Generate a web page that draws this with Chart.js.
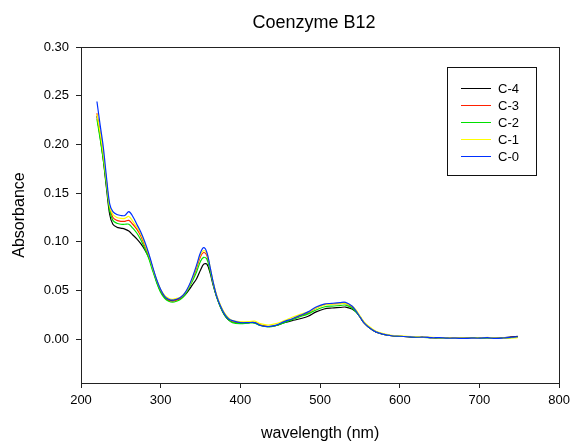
<!DOCTYPE html>
<html>
<head>
<meta charset="utf-8">
<title>Coenzyme B12</title>
<script src="https://cdn.jsdelivr.net/npm/chart.js@4.4.1/dist/chart.umd.min.js"></script>
<style>
  html, body { margin: 0; padding: 0; background: #fff; }
  canvas { display: block; }
</style>
</head>
<body>
<canvas id="chart" width="575" height="444"></canvas>
<script>
// wavelength (nm)
const wavelengths = [220, 224, 228, 232, 236, 240, 245, 250, 255, 260, 265, 270, 275, 280, 285, 290, 295, 300, 305, 310,
  315, 320, 325, 330, 335, 340, 345, 350, 354, 358, 362, 366, 370, 375, 380, 385, 390, 400, 410, 418,
  425, 435, 445, 455, 465, 475, 485, 495, 505, 515, 525, 532, 540, 545, 550, 555, 560, 565, 570, 580,
  590, 600, 610, 620, 630, 640, 650, 660, 670, 680, 690, 700, 710, 720, 730, 740, 748];

// absorbance per sample
const c4 = [0.229, 0.208, 0.184, 0.155, 0.128, 0.118, 0.115, 0.114, 0.113, 0.111,
  0.107, 0.103, 0.098, 0.092, 0.084, 0.072, 0.059, 0.049, 0.043, 0.040,
  0.040, 0.041, 0.042, 0.045, 0.050, 0.056, 0.062, 0.071, 0.077, 0.077,
  0.068, 0.055, 0.044, 0.033, 0.025, 0.020, 0.018, 0.017, 0.017, 0.017,
  0.0145, 0.013, 0.014, 0.017, 0.019, 0.021, 0.0235, 0.028, 0.031, 0.032,
  0.0325, 0.033, 0.031, 0.028, 0.023, 0.017, 0.013, 0.010, 0.0075, 0.005,
  0.0035, 0.003, 0.0025, 0.002, 0.002, 0.0015, 0.0015, 0.0012, 0.001, 0.001,
  0.001, 0.0012, 0.0015, 0.001, 0.0015, 0.0025, 0.0028];
const c3 = [0.232, 0.212, 0.189, 0.161, 0.135, 0.125, 0.122, 0.121, 0.121, 0.122,
  0.118, 0.113, 0.106, 0.096, 0.086, 0.073, 0.060, 0.050, 0.043, 0.040,
  0.039, 0.040, 0.042, 0.046, 0.053, 0.062, 0.073, 0.085, 0.089, 0.086,
  0.072, 0.057, 0.045, 0.034, 0.026, 0.021, 0.018, 0.017, 0.017, 0.017,
  0.0145, 0.013, 0.014, 0.0175, 0.0205, 0.024, 0.027, 0.032, 0.0355, 0.0363,
  0.0365, 0.0368, 0.033, 0.029, 0.023, 0.017, 0.013, 0.010, 0.0075, 0.005,
  0.0035, 0.003, 0.0025, 0.002, 0.002, 0.0015, 0.0012, 0.001, 0.001, 0.0008,
  0.001, 0.0012, 0.0015, 0.0008, 0.001, 0.0018, 0.002];
const c2 = [0.226, 0.206, 0.184, 0.157, 0.132, 0.122, 0.119, 0.118, 0.118, 0.118,
  0.114, 0.109, 0.102, 0.093, 0.083, 0.070, 0.058, 0.048, 0.042, 0.039,
  0.038, 0.039, 0.041, 0.045, 0.052, 0.060, 0.069, 0.080, 0.084, 0.082,
  0.070, 0.056, 0.044, 0.033, 0.025, 0.020, 0.017, 0.016, 0.0165, 0.0165,
  0.014, 0.0125, 0.014, 0.017, 0.020, 0.023, 0.026, 0.030, 0.033, 0.034,
  0.0345, 0.035, 0.032, 0.028, 0.023, 0.017, 0.013, 0.010, 0.0075, 0.005,
  0.0035, 0.003, 0.0025, 0.002, 0.0018, 0.0015, 0.0012, 0.001, 0.0008, 0.0008,
  0.001, 0.001, 0.0012, 0.0008, 0.001, 0.0015, 0.002];
const c1 = [0.231, 0.212, 0.190, 0.162, 0.136, 0.128, 0.125, 0.124, 0.124, 0.126,
  0.121, 0.115, 0.108, 0.098, 0.087, 0.073, 0.061, 0.051, 0.045, 0.042,
  0.041, 0.042, 0.043, 0.047, 0.053, 0.063, 0.075, 0.087, 0.091, 0.088,
  0.074, 0.058, 0.046, 0.035, 0.027, 0.022, 0.019, 0.018, 0.018, 0.0185,
  0.016, 0.0145, 0.016, 0.019, 0.0225, 0.0255, 0.028, 0.032, 0.035, 0.036,
  0.0365, 0.0368, 0.034, 0.030, 0.024, 0.018, 0.014, 0.011, 0.008, 0.0055,
  0.004, 0.0035, 0.003, 0.0025, 0.002, 0.002, 0.0015, 0.0012, 0.001, 0.001,
  0.0008, 0.0012, 0.0018, 0.001, 0.001, 0.0012, 0.0015];
const c0 = [0.244, 0.220, 0.197, 0.166, 0.139, 0.131, 0.128, 0.127, 0.127, 0.131,
  0.126, 0.118, 0.110, 0.100, 0.088, 0.074, 0.061, 0.051, 0.044, 0.041,
  0.040, 0.041, 0.043, 0.047, 0.054, 0.064, 0.076, 0.089, 0.094, 0.089,
  0.074, 0.058, 0.045, 0.034, 0.026, 0.021, 0.019, 0.017, 0.017, 0.017,
  0.014, 0.013, 0.0145, 0.018, 0.021, 0.0245, 0.028, 0.033, 0.036, 0.0368,
  0.0375, 0.0378, 0.034, 0.029, 0.023, 0.017, 0.013, 0.010, 0.0075, 0.005,
  0.0035, 0.003, 0.0025, 0.002, 0.002, 0.0015, 0.0015, 0.001, 0.001, 0.0008,
  0.001, 0.001, 0.0015, 0.0008, 0.0012, 0.002, 0.0025];

const seriesNames = ['C-4', 'C-3', 'C-2', 'C-1', 'C-0'];
const seriesValues = [c4, c3, c2, c1, c0];
const seriesColours = ['#000000', '#ff2000', '#00e000', '#ffff00', '#0030ff'];

const xTicks = [200, 300, 400, 500, 600, 700, 800];
const yTicks = [0.00, 0.05, 0.10, 0.15, 0.20, 0.25, 0.30];

const FONT = "'Liberation Sans', Arial, sans-serif";
const AXIS = '#222222';

// box around the plot, title and legend (SigmaPlot style)
const framePlugin = {
  id: 'frame',
  afterDraw(chart) {
    const { ctx, chartArea: a } = chart;
    ctx.save();
    ctx.strokeStyle = AXIS;
    ctx.lineWidth = 1;
    ctx.strokeRect(Math.round(a.left) + 0.5, Math.round(a.top) + 0.5,
      Math.round(a.right - a.left), Math.round(a.bottom - a.top));

    // title
    ctx.fillStyle = '#000';
    ctx.font = '18px ' + FONT;
    ctx.textAlign = 'center';
    ctx.textBaseline = 'middle';
    ctx.fillText('Coenzyme B12', 314, 23);

    // legend
    const lx = 447.5, ly = 67.5, lw = 89, lh = 108;
    ctx.fillStyle = '#fff';
    ctx.fillRect(lx, ly, lw, lh);
    ctx.strokeStyle = '#111';
    ctx.strokeRect(lx, ly, lw, lh);
    ctx.font = '13px ' + FONT;
    ctx.textAlign = 'left';
    chart.data.datasets.forEach((ds, i) => {
      const y = 88.5 + i * 17;
      ctx.strokeStyle = ds.borderColor;
      ctx.beginPath();
      ctx.moveTo(461, y);
      ctx.lineTo(491, y);
      ctx.stroke();
      ctx.fillStyle = '#000';
      ctx.fillText(ds.label, 498, y + 0.5);
    });
    ctx.restore();
  }
};

const datasets = seriesNames.map((name, i) => ({
  label: name,
  data: wavelengths.map((w, j) => ({ x: w, y: seriesValues[i][j] })),
  borderColor: seriesColours[i],
  borderWidth: 1.2,
  pointRadius: 0,
  tension: 0.35,
  fill: false,
  order: seriesNames.length - i
}));

new Chart(document.getElementById('chart'), {
  type: 'line',
  data: { datasets },
  options: {
    responsive: false,
    animation: false,
    devicePixelRatio: 1,
    layout: { padding: { top: 47, right: 12, left: 0, bottom: 0 } },
    plugins: {
      legend: { display: false },
      title: { display: false },
      tooltip: { enabled: false }
    },
    scales: {
      x: {
        type: 'linear',
        min: 200,
        max: 800,
        afterBuildTicks: s => { s.ticks = xTicks.map(v => ({ value: v })); },
        afterFit: s => { s.height = 61; },
        grid: { drawOnChartArea: false, color: AXIS, tickLength: 5 },
        border: { color: AXIS },
        ticks: { color: '#000', font: { family: FONT, size: 13 }, padding: 5, maxRotation: 0 },
        title: {
          display: true,
          text: 'wavelength (nm)',
          color: '#000',
          font: { family: FONT, size: 16 },
          padding: { top: 1, bottom: 1 }
        }
      },
      y: {
        type: 'linear',
        min: -0.045,
        max: 0.30,
        afterBuildTicks: s => { s.ticks = yTicks.map(v => ({ value: v })); },
        afterFit: s => { s.width = 81; },
        grid: { drawOnChartArea: false, color: AXIS, tickLength: 5 },
        border: { color: AXIS },
        ticks: {
          color: '#000',
          font: { family: FONT, size: 13 },
          padding: 7,
          callback: v => v.toFixed(2)
        },
        title: {
          display: true,
          text: 'Absorbance',
          color: '#000',
          font: { family: FONT, size: 16 },
          padding: { top: 10, bottom: 0 }
        }
      }
    }
  },
  plugins: [framePlugin]
});
</script>
</body>
</html>
